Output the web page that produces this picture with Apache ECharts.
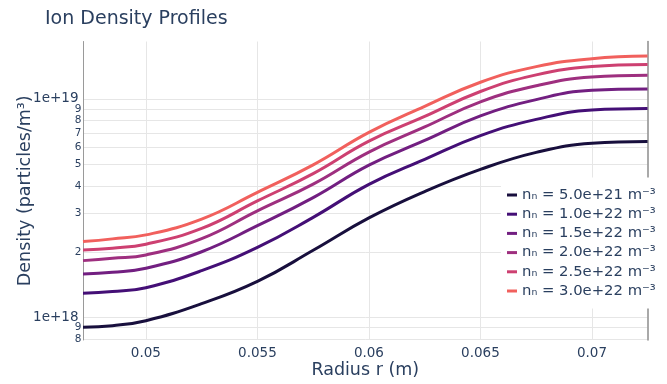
<!DOCTYPE html>
<html>
<head>
<meta charset="utf-8">
<script src="https://cdn.jsdelivr.net/npm/echarts@6/dist/echarts.min.js"></script>
<style>
  html, body { margin: 0; padding: 0; background: #fff; }
  #chart { width: 667px; height: 384px; }
</style>
</head>
<body>
<div id="chart"></div>
<script>
// Radial positions (m)
const radius = [0.04718, 0.0485, 0.05, 0.0525, 0.055, 0.0575, 0.06, 0.0625, 0.065, 0.0675, 0.07, 0.07249];

// Neutral densities labelling each profile
const neutralDensity = ['5.0e+21', '1.0e+22', '1.5e+22', '2.0e+22', '2.5e+22', '3.0e+22'];

// Ion density profiles (particles/m³), one per neutral density
const ni_5e21 = [9.04e17, 9.19e17, 9.68e17, 1.158e18, 1.464e18, 2.031e18, 2.856e18, 3.77e18, 4.76e18, 5.693e18, 6.273e18, 6.38e18];
const ni_1e22 = [1.293e18, 1.315e18, 1.37e18, 1.639e18, 2.094e18, 2.874e18, 4.065e18, 5.29e18, 6.79e18, 8.06e18, 8.907e18, 9.05e18];
const ni_15e21 = [1.584e18, 1.613e18, 1.682e18, 2.001e18, 2.632e18, 3.538e18, 4.981e18, 6.46e18, 8.36e18, 9.926e18, 1.096e19, 1.111e19];
const ni_2e22 = [1.822e18, 1.869e18, 1.935e18, 2.295e18, 3.075e18, 4.074e18, 5.711e18, 7.44e18, 9.69e18, 1.149e19, 1.26e19, 1.283e19];
const ni_25e21 = [2.039e18, 2.077e18, 2.166e18, 2.558e18, 3.417e18, 4.553e18, 6.408e18, 8.31e18, 1.081e19, 1.288e19, 1.405e19, 1.435e19];
const ni_3e22 = [2.226e18, 2.291e18, 2.389e18, 2.821e18, 3.737e18, 4.991e18, 7.027e18, 9.24e18, 1.192e19, 1.405e19, 1.527e19, 1.569e19];

const profiles = [ni_5e21, ni_1e22, ni_15e21, ni_2e22, ni_25e21, ni_3e22];
const colors = ['#180f3d', '#440f76', '#721f81', '#9e2f7f', '#cd4071', '#f1605d'];

// Axis ticks
const xTicks = [0.05, 0.055, 0.06, 0.065, 0.07];
const yMajorTicks = [1e18, 1e19];
const yMinorTicks = [8e17, 9e17, 2e18, 3e18, 4e18, 5e18, 6e18, 7e18, 8e18, 9e18];
const yRange = [7.9e17, 1.83e19];

const FONT = '"DejaVu Sans", Verdana, sans-serif';
const TEXT = '#2a3f5f';
const GRID = '#e6e6e6';

const series = profiles.map((vals, i) => ({
  name: 'nₙ = ' + neutralDensity[i] + ' m⁻³',
  type: 'line',
  data: radius.map((r, k) => [r, vals[k]]),
  showSymbol: false,
  smooth: 0.45,
  lineStyle: { width: 3, color: colors[i] },
  itemStyle: { color: colors[i] },
  z: 2
}));

function decade(v) {
  return Math.round(Math.log10(v) - 0.4999);
}
// Decade ticks read "1e+N"
function majorLabel(v) {
  return '1e+' + decade(v);
}
// Intermediate ticks show only their mantissa
function minorLabel(v) {
  return String(Math.round(v / Math.pow(10, decade(v))));
}

const allYTicks = yMinorTicks.concat(yMajorTicks).sort((a, b) => a - b);

const chart = echarts.init(document.getElementById('chart'), null, { renderer: 'canvas' });
chart.setOption({
  animation: false,
  backgroundColor: '#fff',
  textStyle: { fontFamily: FONT },
  title: {
    text: 'Ion Density Profiles',
    left: 40,
    top: 5,
    textStyle: { fontFamily: FONT, fontSize: 19, fontWeight: 'normal', color: TEXT }
  },
  grid: { left: 83, right: 19.5, top: 41.5, bottom: 44, containLabel: false, outerBoundsMode: 'none' },
  legend: {
    orient: 'vertical',
    left: 501,
    top: 177.5,
    padding: [10, 6, 10, 6],
    backgroundColor: '#fff',
    icon: 'rect',
    itemWidth: 10,
    itemHeight: 3,
    itemGap: 4.2,
    textStyle: { fontFamily: FONT, fontSize: 14.8, lineHeight: 15, color: TEXT }
  },
  xAxis: {
    type: 'value',
    min: radius[0],
    max: radius[radius.length - 1],
    name: 'Radius r (m)',
    nameLocation: 'middle',
    nameGap: 21,
    nameMoveOverlap: false,
    nameTextStyle: { fontFamily: FONT, fontSize: 17.5, color: TEXT },
    axisLine: { show: false },
    axisTick: { show: false, customValues: xTicks },
    axisLabel: {
      customValues: xTicks,
      margin: 6,
      fontFamily: FONT,
      fontSize: 13.5,
      color: TEXT,
      formatter: v => String(+v.toFixed(4))
    },
    splitLine: { show: true, lineStyle: { color: GRID, width: 1 } }
  },
  yAxis: [{
    // main density axis: decade labels, all gridlines, axis title
    type: 'log',
    logBase: 10,
    min: yRange[0],
    max: yRange[1],
    name: 'Density (particles/m³)',
    nameLocation: 'middle',
    nameGap: 49,
    nameMoveOverlap: false,
    nameTextStyle: { fontFamily: FONT, fontSize: 17.5, color: TEXT },
    axisLine: { show: true, lineStyle: { color: '#9a9a9a', width: 1 } },
    axisTick: { show: false, customValues: allYTicks },
    axisLabel: {
      customValues: yMajorTicks,
      margin: 4.5,
      showMinLabel: true,
      showMaxLabel: true,
      fontFamily: FONT,
      fontSize: 13.5,
      color: TEXT,
      formatter: majorLabel
    },
    splitLine: { show: true, lineStyle: { color: GRID, width: 1 } }
  }, {
    // right-hand frame line
    type: 'log',
    logBase: 10,
    min: yRange[0],
    max: yRange[1],
    position: 'right',
    axisLine: { show: true, lineStyle: { color: '#8c8c8c', width: 1.5 } },
    axisTick: { show: false },
    axisLabel: { show: false },
    splitLine: { show: false }
  }, {
    // intermediate tick labels on the left
    type: 'log',
    logBase: 10,
    min: yRange[0],
    max: yRange[1],
    position: 'left',
    axisLine: { show: false },
    axisTick: { show: false, customValues: yMinorTicks },
    axisLabel: {
      customValues: yMinorTicks,
      margin: 1.5,
      showMinLabel: true,
      showMaxLabel: true,
      fontFamily: FONT,
      fontSize: 10.5,
      color: TEXT,
      formatter: minorLabel
    },
    splitLine: { show: false }
  }],
  series: series
});
</script>
</body>
</html>
